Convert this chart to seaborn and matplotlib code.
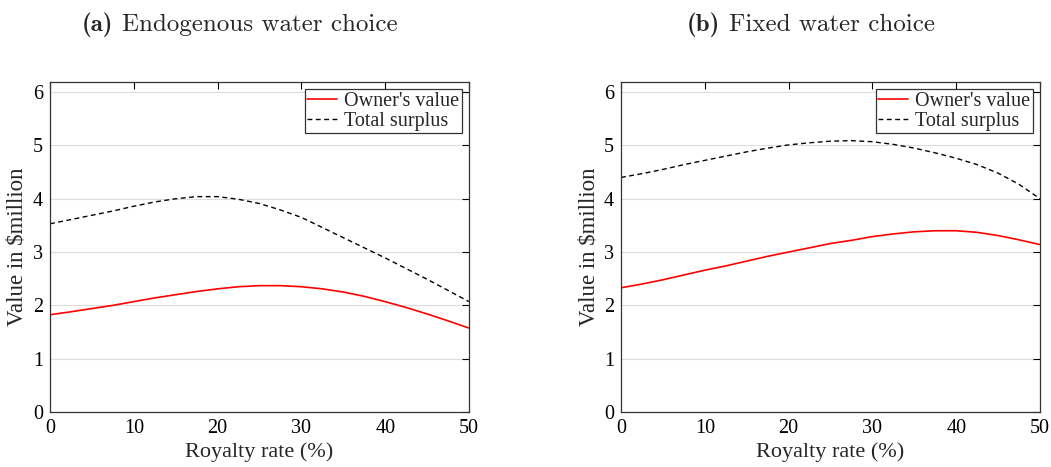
import numpy as np
import pandas as pd
import matplotlib
matplotlib.use("Agg")
import matplotlib.pyplot as plt
import seaborn as sns

royalty = [0, 2.5, 5, 7.5, 10, 12.5, 15, 17.5, 20, 22.5, 25, 27.5, 30, 32.5, 35, 37.5, 40, 42.5, 45, 47.5, 50]

owner_endog = [1.825, 1.88, 1.94, 2.00, 2.07, 2.14, 2.20, 2.26, 2.31, 2.35, 2.37, 2.37, 2.35, 2.31, 2.25, 2.17, 2.07, 1.96, 1.84, 1.71, 1.575]
total_endog = [3.53, 3.61, 3.69, 3.77, 3.86, 3.94, 4.00, 4.04, 4.04, 3.99, 3.91, 3.79, 3.65, 3.46, 3.27, 3.08, 2.89, 2.69, 2.49, 2.28, 2.07]

owner_fixed = [2.33, 2.40, 2.48, 2.57, 2.66, 2.74, 2.83, 2.92, 3.00, 3.08, 3.16, 3.22, 3.29, 3.34, 3.38, 3.40, 3.40, 3.37, 3.31, 3.23, 3.14]
total_fixed = [4.40, 4.47, 4.55, 4.64, 4.72, 4.80, 4.88, 4.95, 5.01, 5.05, 5.08, 5.09, 5.07, 5.02, 4.95, 4.86, 4.76, 4.64, 4.48, 4.27, 4.00]

title_tags = ["(a)", "(b)"]
title_texts = ["Endogenous water choice", "Fixed water choice"]
series_names = ["Owner's value", "Total surplus"]
x_ticks = [0, 10, 20, 30, 40, 50]
y_ticks = [0, 1, 2, 3, 4, 5, 6]

sns.set_style("white")
plt.rcParams["font.family"] = ["Liberation Serif", "DejaVu Serif"]
plt.rcParams["mathtext.fontset"] = "cm"

fig = plt.figure(figsize=(10.51, 4.67), dpi=100)
W, H = 1051, 467
ax_l = fig.add_axes([50 / W, (H - 412) / H, 419 / W, 330 / H])
ax_r = fig.add_axes([621 / W, (H - 412) / H, 419 / W, 330 / H])

panels = [(ax_l, owner_endog, total_endog), (ax_r, owner_fixed, total_fixed)]
title_left = [82, 687]

renderer = fig.canvas.get_renderer()

for (ax, own, tot), tag, ttl, lx in zip(panels, title_tags, title_texts, title_left):
    df_o = pd.DataFrame({"x": royalty, "y": own})
    df_t = pd.DataFrame({"x": royalty, "y": tot})
    sns.lineplot(data=df_o, x="x", y="y", ax=ax, color="#ff0000", lw=1.2, label=series_names[0])
    sns.lineplot(data=df_t, x="x", y="y", ax=ax, color="black", lw=1.0,
                 linestyle=(0, (3.5, 2.5)), label=series_names[1])
    ax.set_xlim(0, 50)
    ax.set_ylim(0, 6.19)
    ax.set_xticks(x_ticks)
    ax.set_yticks(y_ticks)
    ax.grid(axis="y", color="#dcdcdc", lw=0.8)
    ax.set_axisbelow(True)
    ax.tick_params(direction="in", length=5, width=0.8, top=True, right=True,
                   labelsize=14.5, colors="black", pad=5)
    for s in ax.spines.values():
        s.set_color("#333333")
        s.set_linewidth(0.9)
    ax.set_xlabel("Royalty rate (%)", fontsize=16, labelpad=3)
    ax.set_ylabel("Value in \\$million", fontsize=16.5)
    ax.yaxis.set_label_coords(-22 / 419, 0.5)
    leg = ax.legend(loc="upper right", fontsize=14.5, frameon=True, fancybox=False,
                    borderpad=0.12, handlelength=1.5, handletextpad=0.35,
                    labelspacing=0.05, borderaxespad=0.35, framealpha=1)
    leg.get_frame().set_edgecolor("#333333")
    leg.get_frame().set_linewidth(0.9)
    t1 = fig.text(lx / W, 1 - 25 / H, tag, ha="left", va="center",
                  fontsize=18, family="cmb10")
    bb = t1.get_window_extent(renderer=renderer)
    fig.text((bb.x1 + 9) / W, 1 - 25 / H, ttl, ha="left", va="center",
             fontsize=18, family="cmr10")

fig.savefig("out.png", dpi=100)
